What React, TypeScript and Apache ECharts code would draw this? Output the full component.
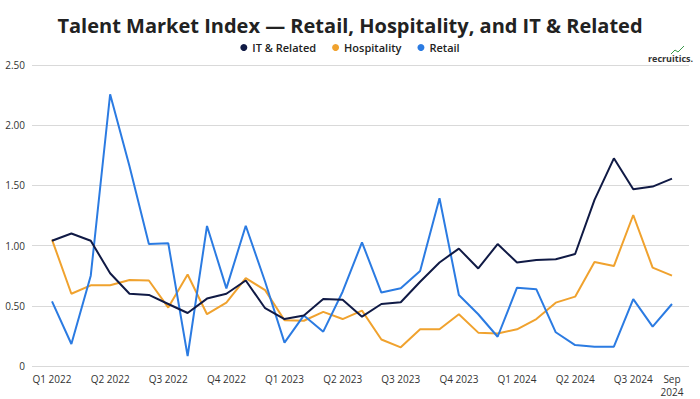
import React, { useEffect, useRef } from "react";
import * as echarts from "echarts";

const months = [
  "Jan 2022", "Feb 2022", "Mar 2022", "Apr 2022", "May 2022", "Jun 2022",
  "Jul 2022", "Aug 2022", "Sep 2022", "Oct 2022", "Nov 2022", "Dec 2022",
  "Jan 2023", "Feb 2023", "Mar 2023", "Apr 2023", "May 2023", "Jun 2023",
  "Jul 2023", "Aug 2023", "Sep 2023", "Oct 2023", "Nov 2023", "Dec 2023",
  "Jan 2024", "Feb 2024", "Mar 2024", "Apr 2024", "May 2024", "Jun 2024",
  "Jul 2024", "Aug 2024", "Sep 2024",
];

const xTickLabels = [
  "Q1 2022", "", "", "Q2 2022", "", "", "Q3 2022", "", "", "Q4 2022", "", "",
  "Q1 2023", "", "", "Q2 2023", "", "", "Q3 2023", "", "", "Q4 2023", "", "",
  "Q1 2024", "", "", "Q2 2024", "", "", "Q3 2024", "", "Sep\n2024",
];

const itRelated = [
  1.04, 1.10, 1.04, 0.77, 0.60, 0.59, 0.515, 0.44, 0.56, 0.60, 0.71, 0.48,
  0.39, 0.42, 0.556, 0.55, 0.41, 0.515, 0.53, 0.70, 0.86, 0.975, 0.81, 1.013,
  0.86, 0.88, 0.886, 0.93, 1.38, 1.725, 1.468, 1.49, 1.556,
];

const hospitality = [
  1.05, 0.60, 0.67, 0.67, 0.714, 0.71, 0.485, 0.76, 0.43, 0.526, 0.73, 0.63,
  0.38, 0.376, 0.45, 0.39, 0.46, 0.22, 0.155, 0.305, 0.305, 0.43, 0.277, 0.27,
  0.305, 0.39, 0.526, 0.576, 0.864, 0.83, 1.254, 0.817, 0.75,
];

const retail = [
  0.537, 0.183, 0.75, 2.257, 1.66, 1.013, 1.02, 0.083, 1.163, 0.645, 1.165, 0.70,
  0.194, 0.42, 0.285, 0.617, 1.027, 0.61, 0.645, 0.79, 1.393, 0.59, 0.43, 0.243,
  0.65, 0.637, 0.28, 0.174, 0.16, 0.16, 0.556, 0.327, 0.515,
];

const seriesNames = ["IT & Related", "Hospitality", "Retail"];
const seriesColors = ["#101a45", "#f0a22e", "#2b7be2"];

const FONT = "Open Sans, Noto Sans, sans-serif";

export default function App() {
  const ref = useRef<HTMLDivElement>(null);

  useEffect(() => {
    if (!ref.current) return;
    const chart = echarts.init(ref.current, undefined, { renderer: "svg" });
    const values = [itRelated, hospitality, retail];
    chart.setOption({
      animation: false,
      backgroundColor: "#ffffff",
      title: {
        text: "Talent Market Index — Retail, Hospitality, and IT & Related",
        left: "center",
        top: 10,
        textStyle: {
          fontFamily: FONT,
          fontSize: 20,
          fontWeight: 700,
          color: "#222222",
        },
      },
      legend: {
        data: seriesNames,
        top: 37,
        left: "center",
        icon: "circle",
        itemWidth: 7,
        itemHeight: 7,
        itemGap: 16,
        textStyle: {
          fontFamily: FONT,
          fontSize: 11,
          fontWeight: 600,
          color: "#222222",
        },
      },
      grid: [
        { left: 32, right: 11, top: 65, bottom: 33, outerBoundsMode: "none" },
        { left: 52, right: 28, top: 65, bottom: 33, outerBoundsMode: "none" },
      ],
      xAxis: [
        { gridIndex: 0, type: "value", min: 0, max: 1, show: false },
        {
          gridIndex: 1,
          type: "category",
          data: months,
          boundaryGap: false,
          axisLine: { show: false },
          axisTick: { show: false },
          splitLine: { show: false },
          axisLabel: {
            interval: (i: number) => xTickLabels[i] !== "",
            margin: 6,
            fontFamily: FONT,
            fontSize: 10,
            fontWeight: 500,
            lineHeight: 13,
            color: "#333333",
            formatter: (_v: string, i: number) => xTickLabels[i],
          },
        },
      ],
      yAxis: [
        {
          gridIndex: 0,
          type: "value",
          min: 0,
          max: 2.5,
          interval: 0.5,
          axisLine: { show: false },
          axisTick: { show: false },
          splitLine: { lineStyle: { color: "#d9d9d9", width: 1 } },
          axisLabel: {
            margin: 7,
            fontFamily: FONT,
            fontSize: 10,
            fontWeight: 500,
            color: "#333333",
            formatter: (v: number) => (v === 0 ? "0" : v.toFixed(2)),
          },
        },
        { gridIndex: 1, type: "value", min: 0, max: 2.5, show: false },
      ],
      series: seriesNames.map((name, k) => ({
        name,
        type: "line",
        xAxisIndex: 1,
        yAxisIndex: 1,
        data: values[k],
        symbol: "none",
        color: seriesColors[k],
        lineStyle: { width: 2, color: seriesColors[k] },
        z: k === 0 ? 4 : 3,
      })),
      graphic: [
        {
          type: "text",
          left: 648,
          top: 54,
          style: {
            text: "recruitics.",
            fontFamily: FONT,
            fontSize: 9,
            fontWeight: 700,
            fill: "#333333",
          },
        },
        {
          type: "polyline",
          shape: { points: [[671, 54], [675, 50], [678, 52], [684, 46]] },
          style: { stroke: "#3a9a4a", lineWidth: 1, fill: "none" },
        },
      ],
    });
    return () => chart.dispose();
  }, []);

  return (
    <div
      ref={ref}
      style={{ position: "fixed", left: 0, top: 0, width: 700, height: 399 }}
    />
  );
}
